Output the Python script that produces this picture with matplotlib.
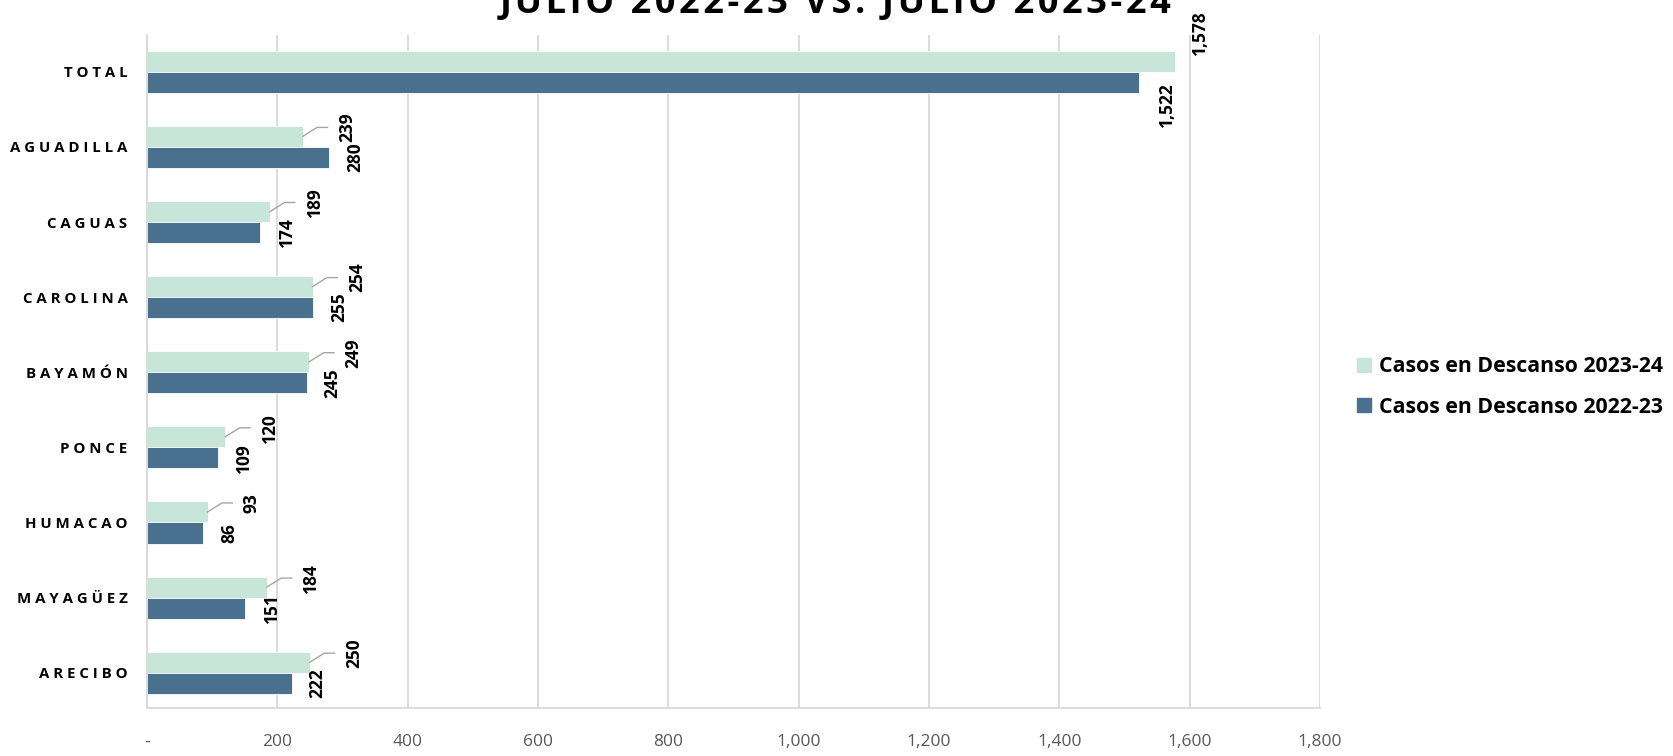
import matplotlib
matplotlib.use("Agg")
import matplotlib.pyplot as plt
from matplotlib.patches import Patch
from matplotlib.ticker import FuncFormatter, MultipleLocator

# regiones, de arriba hacia abajo
regiones = ["TOTAL", "AGUADILLA", "CAGUAS", "CAROLINA", "BAYAMÓN",
            "PONCE", "HUMACAO", "MAYAGÜEZ", "ARECIBO"]
casos_2023_24 = [1578, 239, 189, 254, 249, 120, 93, 184, 250]
casos_2022_23 = [1522, 280, 174, 255, 245, 109, 86, 151, 222]
serie_labels = ["Casos en Descanso 2023-24", "Casos en Descanso 2022-23"]
titulo = "JULIO 2022-23 VS. JULIO 2023-24"

LIGHT = "#C8E5DA"
DARK = "#4A708F"
GRID = "#D9D9D9"
FONT = ["Open Sans", "DejaVu Sans"]

plt.rcParams["font.family"] = FONT

fig = plt.figure(figsize=(16.73, 7.56), dpi=100)
ax = fig.add_axes([147 / 1673, 1 - 708 / 756, (1320 - 147) / 1673, (708 - 35) / 756])

h = 0.28
ys = list(range(len(regiones)))
y_light = [y - h / 2 for y in ys]
y_dark = [y + h / 2 for y in ys]
ax.barh(y_light, casos_2023_24, height=h, color=LIGHT, edgecolor="white", linewidth=0.6, zorder=2)
ax.barh(y_dark, casos_2022_23, height=h, color=DARK, edgecolor="white", linewidth=0.6, zorder=2)

ax.set_xlim(0, 1800)
ax.set_ylim(len(regiones) - 0.53, -0.49)
ax.xaxis.set_major_locator(MultipleLocator(200))
ax.xaxis.set_major_formatter(FuncFormatter(lambda v, p: "-" if v == 0 else f"{v:,.0f}"))
ax.grid(axis="x", color=GRID, linewidth=1.3, zorder=0)
ax.set_axisbelow(True)
for s in ["top", "right"]:
    ax.spines[s].set_visible(False)
for s in ["left", "bottom"]:
    ax.spines[s].set_color(GRID)
    ax.spines[s].set_linewidth(1.3)
ax.tick_params(axis="x", length=0, pad=19, labelsize=12.5, labelcolor="#595959")
ax.tick_params(axis="y", length=0, pad=14)
ax.set_yticks(ys)
ax.set_yticklabels([" ".join(r) for r in regiones], fontsize=10.8, fontweight="bold")

# etiquetas de datos
for i, (a, b) in enumerate(zip(casos_2023_24, casos_2022_23)):
    top = i - h
    if i == 0:
        ax.text(a + 38, top + 0.06, f"{a:,}", rotation=90, ha="center", va="bottom",
                fontsize=12.5, fontweight="bold")
        ax.text(b + 43, i + h / 2, f"{b:,}", rotation=90, ha="center", va="top",
                fontsize=12.5, fontweight="bold")
    else:
        ax.plot([a, a + 22, a + 38], [i - h / 2, top + 0.02, top + 0.02], color="#A6A6A6",
                linewidth=1, zorder=3)
        ax.text(a + 68, top + 0.02, f"{a:,}", rotation=90, ha="center", va="center",
                fontsize=12.5, fontweight="bold")
        ax.text(b + 40, i + h / 2, f"{b:,}", rotation=90, ha="center", va="center",
                fontsize=12.5, fontweight="bold")

handles = [Patch(color=LIGHT), Patch(color=DARK)]
fig.legend(handles, serie_labels, loc="center left", bbox_to_anchor=(1338 / 1673, 1 - 387 / 756),
           frameon=False, handlelength=0.65, handleheight=0.65, handletextpad=0.4,
           labelspacing=0.9, prop={"weight": "bold", "size": 15.3})

fig.text(836 / 1673, 1 - 13 / 756, "\u200a".join(titulo), ha="center", va="baseline",
         fontsize=26, fontweight="bold")

fig.savefig("out.png", dpi=100)
